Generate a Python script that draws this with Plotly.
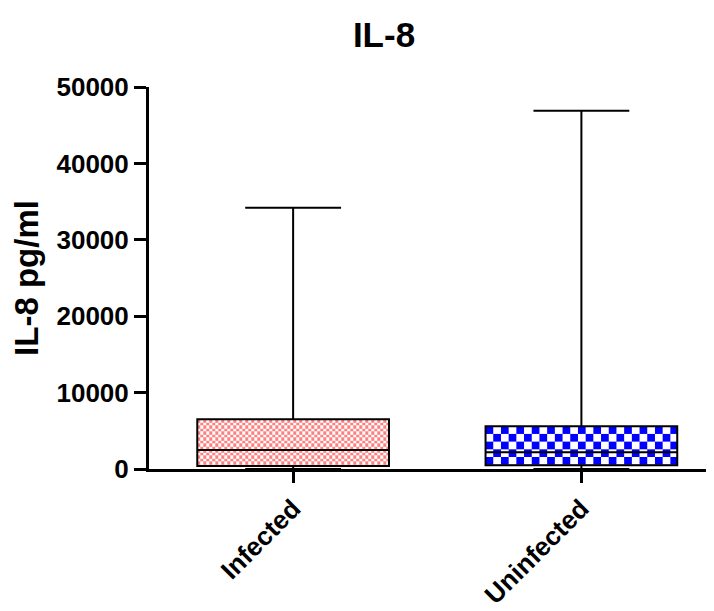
import base64
import plotly.graph_objects as go

# ---- data ----
categories = ["Infected", "Uninfected"]
q1 = [400, 500]
median = [2500, 2200]
q3 = [6500, 5600]
minimum = [0, 0]
maximum = [34200, 46900]
y_ticks = [0, 10000, 20000, 30000, 40000, 50000]

# ---- styles ----
fill_colors = ["#FF7F7F", "#0000FF"]
cell_px = [3, 7.7]

OFF = 8  # page body margin
W, H = 714 - OFF, 611 - OFF
ML, MR, MT, MB = 149 - OFF, 0, 87 - OFF, 142
X_RANGE = [-0.5, 1.46]
Y_RANGE = [0, 50000]
BOX_W = 0.665

plot_w = W - ML - MR
plot_h = H - MT - MB
px_x = plot_w / (X_RANGE[1] - X_RANGE[0])
px_y = plot_h / (Y_RANGE[1] - Y_RANGE[0])


def checker_uri(w, h, c, color):
    c2 = 2 * c
    svg = (
        f'<svg xmlns="http://www.w3.org/2000/svg" width="{w:.2f}" height="{h:.2f}" '
        f'viewBox="0 0 {w:.2f} {h:.2f}" preserveAspectRatio="none" shape-rendering="crispEdges">'
        f'<defs><pattern id="p" width="{c2}" height="{c2}" patternUnits="userSpaceOnUse">'
        f'<rect width="{c2}" height="{c2}" fill="white"/>'
        f'<rect width="{c}" height="{c}" fill="{color}"/>'
        f'<rect x="{c}" y="{c}" width="{c}" height="{c}" fill="{color}"/>'
        f'</pattern></defs><rect width="{w:.2f}" height="{h:.2f}" fill="url(#p)"/></svg>'
    )
    return "data:image/svg+xml;base64," + base64.b64encode(svg.encode()).decode()


fig = go.Figure()
xs = list(range(len(categories)))
images = []
for i, cat in enumerate(categories):
    fig.add_trace(go.Box(
        x=[xs[i]], q1=[q1[i]], median=[median[i]], q3=[q3[i]],
        lowerfence=[minimum[i]], upperfence=[maximum[i]],
        name=cat, width=BOX_W, whiskerwidth=0.5,
        fillcolor="rgba(0,0,0,0)", line=dict(color="black", width=2),
        boxpoints=False, showlegend=False, hoverinfo="skip",
    ))
    wpx = BOX_W * px_x
    hpx = (q3[i] - q1[i]) * px_y
    images.append(dict(
        source=checker_uri(wpx, hpx, cell_px[i], fill_colors[i]),
        xref="x", yref="y", x=xs[i] - BOX_W / 2, y=q3[i],
        sizex=BOX_W, sizey=q3[i] - q1[i], sizing="stretch",
        xanchor="left", yanchor="top", layer="below",
    ))

font_family = "Arial, 'Liberation Sans', sans-serif"
fig.update_layout(
    width=W, height=H,
    margin=dict(l=ML, r=MR, t=MT, b=MB),
    paper_bgcolor="white", plot_bgcolor="rgba(0,0,0,0)",
    images=images,
    title=dict(text="IL-8", x=(384 - OFF) / W, xanchor="center", y=1 - (35 - OFF) / H, yanchor="middle",
               font=dict(family=font_family, size=35, color="black", weight="bold")),
    font=dict(family=font_family, color="black"),
)
fig.update_xaxes(
    range=X_RANGE, tickvals=xs, ticktext=categories, tickangle=-45,
    showline=True, linecolor="black", linewidth=3,
    ticks="outside", ticklen=11, tickwidth=3, tickcolor="black",
    showgrid=False, zeroline=False,
    tickfont=dict(family=font_family, size=26, color="black", weight="bold"),
)
fig.update_yaxes(
    range=Y_RANGE, tickvals=y_ticks, ticktext=[str(v) for v in y_ticks],
    showline=True, linecolor="black", linewidth=3,
    ticks="outside", ticklen=12, tickwidth=3, tickcolor="black",
    showgrid=False, zeroline=False,
    tickfont=dict(family=font_family, size=26, color="black", weight="bold"),
    title=dict(text="IL-8 pg/ml", standoff=12,
               font=dict(family=font_family, size=33, color="black", weight="bold")),
)

fig.write_html("out.html")
